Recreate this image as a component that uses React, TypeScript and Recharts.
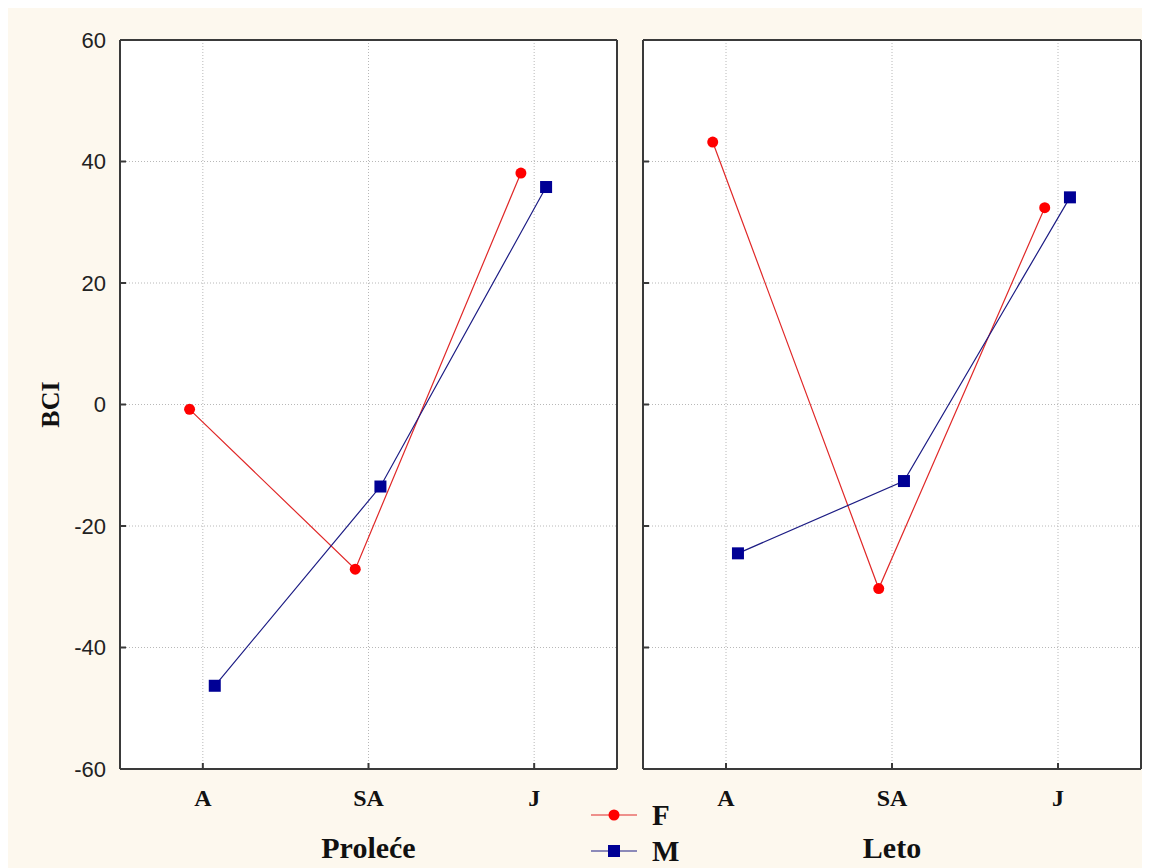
import React from 'react';
import { LineChart, Line, XAxis, YAxis, CartesianGrid, Legend } from 'recharts';

const categories = ['A', 'SA', 'J'];
const yTicks = [-60, -40, -20, 0, 20, 40, 60];
const rightTicks = [-45, -30, -15, 0, 15, 30, 45];

// BCI per category, F and M, for the two seasons
const proleceF = [-0.8, -27.1, 38.1];
const proleceM = [-46.3, -13.5, 35.8];
const letoF = [43.2, -30.3, 32.4];
const letoM = [-24.5, -12.6, 34.1];

const F_SHIFT = -0.08;
const M_SHIFT = 0.072;

const toPoints = (vals: number[], shift: number) => vals.map((v, i) => ({ x: i + 1 + shift, y: v }));

const RED = '#ff0000';
const RED_LINE = '#e02828';
const NAVY = '#000095';
const NAVY_LINE = '#1c1c84';
const FRAME = '#3a3a3a';
const CREAM = '#fdf8ee';

const serif = '"Liberation Serif", "Times New Roman", serif';
const sans = '"Liberation Sans", Arial, sans-serif';

const squareDot = (p: any) => (
  <rect key={`sq-${p.index}`} x={p.cx - 6} y={p.cy - 6} width={12} height={12} fill={NAVY} />
);
const circleDot = (p: any) => <circle key={`ci-${p.index}`} cx={p.cx} cy={p.cy} r={5.5} fill={RED} />;

// keeps the tick line, draws no label
const NoLabel = () => <g />;

const LegendBox = (props: any) => {
  const items = props.payload || [];
  return (
    <div>
      {items.map((it: any) => (
        <svg key={it.value} width={110} height={36} style={{ display: 'block' }}>
          <line x1={0} x2={46} y1={18} y2={18} stroke={it.value === 'F' ? RED_LINE : NAVY_LINE} strokeWidth={1.2} />
          {it.value === 'F' ? (
            <circle cx={23} cy={18} r={5.5} fill={RED} />
          ) : (
            <rect x={17} y={12} width={12} height={12} fill={NAVY} />
          )}
          <text x={61} y={18} dy="0.36em" fontFamily={serif} fontWeight="bold" fontSize={29} fill="#111">
            {it.value}
          </text>
        </svg>
      ))}
    </div>
  );
};

const Panel = ({ f, m, title, width, margin, left, showLabels }: any) => (
  <LineChart width={width} height={860} margin={margin} style={{ position: 'absolute', left, top: 0 }}>
    <CartesianGrid fill="#ffffff" stroke="#b8b8b8" strokeDasharray="1 2" />
    <XAxis
      dataKey="x"
      type="number"
      domain={[0.5, 3.5]}
      ticks={[1, 2, 3]}
      tickFormatter={(v: number) => categories[v - 1]}
      height={95}
      tickSize={-6}
      tickMargin={26}
      axisLine={{ stroke: FRAME, strokeWidth: 2 }}
      tickLine={{ stroke: FRAME, strokeWidth: 2 }}
      tick={{ fontSize: 24, fontWeight: 'bold', fill: '#111', fontFamily: serif }}
      label={{ value: title, position: 'insideBottom', offset: 6, style: { fontSize: 30, fontWeight: 'bold', fill: '#111', fontFamily: serif } }}
      allowDataOverflow
    />
    <XAxis
      xAxisId="top"
      orientation="top"
      type="number"
      domain={[0.5, 3.5]}
      ticks={[1, 2, 3]}
      height={1}
      tickSize={-6}
      tick={NoLabel}
      axisLine={{ stroke: FRAME, strokeWidth: 2 }}
      tickLine={{ stroke: FRAME, strokeWidth: 2 }}
    />
    <YAxis
      type="number"
      domain={[-60, 60]}
      ticks={yTicks}
      width={showLabels ? 100 : 1}
      tickSize={-6}
      tickMargin={20}
      axisLine={{ stroke: FRAME, strokeWidth: 2 }}
      tickLine={{ stroke: FRAME, strokeWidth: 2 }}
      tick={showLabels ? { fontSize: 22, fill: '#222', fontFamily: sans } : NoLabel}
      label={
        showLabels
          ? { value: 'BCI', angle: -90, position: 'insideLeft', offset: 30, style: { textAnchor: 'middle', fontSize: 26, fontWeight: 'bold', fill: '#111', fontFamily: serif } }
          : undefined
      }
      allowDataOverflow
    />
    <YAxis
      yAxisId="right"
      orientation="right"
      type="number"
      domain={[-60, 60]}
      ticks={rightTicks}
      width={1}
      tickSize={-6}
      tick={NoLabel}
      axisLine={{ stroke: FRAME, strokeWidth: 2 }}
      tickLine={{ stroke: FRAME, strokeWidth: 2 }}
    />
    <Line
      data={toPoints(f, F_SHIFT)}
      dataKey="y"
      name="F"
      stroke={RED_LINE}
      strokeWidth={1.2}
      dot={circleDot}
      activeDot={false}
      isAnimationActive={false}
    />
    <Line
      data={toPoints(m, M_SHIFT)}
      dataKey="y"
      name="M"
      stroke={NAVY_LINE}
      strokeWidth={1.2}
      dot={squareDot}
      activeDot={false}
      isAnimationActive={false}
    />
    {showLabels && (
      <Legend
        layout="horizontal"
        verticalAlign="middle"
        align="center"
        content={LegendBox}
        wrapperStyle={{ position: 'absolute', left: 583, top: 789, width: 110, height: 72 }}
      />
    )}
  </LineChart>
);

export default function App() {
  return (
    <div style={{ position: 'relative', width: 1142, height: 860, background: CREAM, overflow: 'hidden' }}>
      <Panel f={proleceF} m={proleceM} title="Proleće" width={624} left={0} showLabels margin={{ top: 31, right: 14, bottom: 4, left: 12 }} />
      <Panel f={letoF} m={letoM} title="Leto" width={518} left={624} showLabels={false} margin={{ top: 31, right: 8, bottom: 4, left: 10 }} />
    </div>
  );
}
